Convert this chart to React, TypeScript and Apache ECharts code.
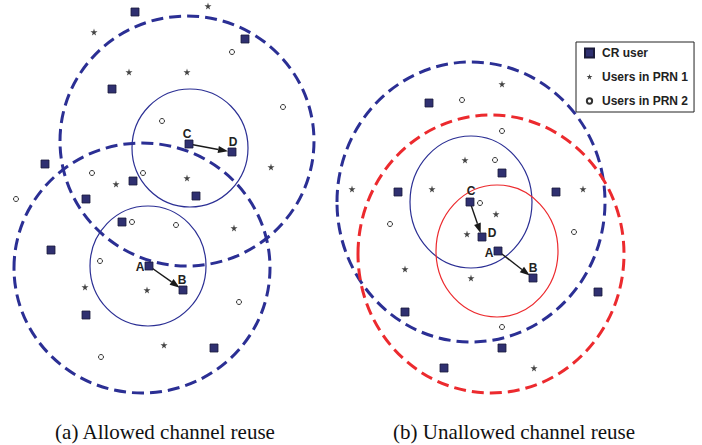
import React, { useEffect, useRef } from "react";
import * as echarts from "echarts";

// point positions (in picture units: x to the right, y downward)
const crUsers: number[][] = [
  [135, 12], [245, 39], [112, 89], [189, 144], [232, 152], [45, 164], [133, 181], [196, 196],
  [86, 199], [122, 222], [51, 250], [149, 266], [183, 290], [86, 315], [214, 348],
  [429, 103], [502, 173], [398, 192], [556, 192], [470, 202], [482, 237], [498, 251],
  [533, 278], [598, 292], [405, 312], [502, 348], [444, 368],
];
const prn1Users: number[][] = [
  [208, 6], [94, 32], [129, 72], [187, 72], [271, 167], [116, 184], [187, 178], [234, 228],
  [147, 290], [85, 287], [164, 345],
  [502, 84], [465, 160], [352, 189], [432, 189], [583, 189], [496, 214], [467, 234],
  [405, 269], [471, 278], [534, 368],
];
const prn2Users: number[][] = [
  [232, 52], [283, 107], [162, 121], [92, 173], [143, 173], [16, 199], [132, 222], [176, 225],
  [100, 261], [239, 302], [101, 357],
  [462, 100], [502, 131], [495, 160], [480, 203], [390, 224], [574, 232], [502, 327],
];
// ranges: [cx, cy, rx, ry]
const interferenceRanges: number[][] = [
  [187, 141, 127, 125],
  [142, 268, 128, 125],
  [471, 202, 134, 140],
];
const interferenceRangesRed: number[][] = [[491, 254, 133, 139]];
const commRanges: number[][] = [
  [190, 148, 58, 59],
  [148, 266, 58, 60],
  [471, 202, 61, 66],
];
const commRangesRed: number[][] = [[497, 251, 61, 66]];
// links: [x1, y1, x2, y2]
const links: number[][] = [
  [189, 144, 232, 152],
  [149, 266, 183, 290],
  [470, 202, 482, 237],
  [498, 251, 533, 278],
];
const nodeLabels: (string | number)[][] = [
  [187, 134, "C"], [233, 142, "D"], [140, 267, "A"], [182, 280, "B"],
  [471, 191, "C"], [492, 233, "D"], [489, 253, "A"], [533, 268, "B"],
];
const captions: (string | number)[][] = [
  [165, 432, "(a) Allowed channel reuse"],
  [514, 432, "(b) Unallowed channel reuse"],
];
const legendNames: string[] = ["CR user", "Users in PRN 1", "Users in PRN 2"];

const BLUE = "#2b2f94";
const RED = "#ec2a2e";
const STAR = "path://M50,0 L61,35 L98,35 L68,57 L79,91 L50,70 L21,91 L32,57 L2,35 L39,35 Z";
const STAR_LEGEND =
  "path://M-25,-25 M125,125 M50,0 L61,35 L98,35 L68,57 L79,91 L50,70 L21,91 L32,57 L2,35 L39,35 Z";
const CIRCLE_LEGEND =
  "path://M-35,-35 M135,135 M100,50 A50,50 0 1 1 0,50 A50,50 0 1 1 100,50 Z";

function ellipseSeries(data: number[][], color: string, dashed: boolean) {
  return {
    type: "custom",
    silent: true,
    data,
    z: 1,
    renderItem: (params: any, api: any) => {
      const c = api.coord([api.value(0), api.value(1)]);
      const s = api.size([api.value(2), api.value(3)]);
      return {
        type: "ellipse",
        shape: { cx: c[0], cy: c[1], rx: s[0], ry: s[1] },
        style: {
          fill: "none",
          stroke: color,
          lineWidth: dashed ? 3 : 1.2,
          lineDash: dashed ? [12, 6] : null,
        },
      };
    },
  };
}

export default function App() {
  const ref = useRef<HTMLDivElement>(null);
  useEffect(() => {
    if (!ref.current) return;
    const chart = echarts.init(ref.current, null, { renderer: "svg" });
    const option: any = {
      animation: false,
      backgroundColor: "#ffffff",
      grid: { left: 0, top: 0, right: 0, bottom: 0 },
      xAxis: { type: "value", min: 0, max: 702, show: false },
      yAxis: { type: "value", min: 0, max: 445, inverse: true, show: false },
      legend: {
        orient: "vertical",
        left: 576,
        top: 42,
        padding: [5, 6, 5, 8],
        itemGap: 12,
        itemWidth: 9,
        itemHeight: 9,
        borderColor: "#222",
        borderWidth: 1,
        textStyle: {
          fontFamily: "Liberation Sans, Arial",
          fontWeight: "bold",
          fontSize: 12,
          color: "#222",
          padding: [0, 0, 0, 3],
        },
        data: [
          { name: legendNames[0], icon: "rect" },
          { name: legendNames[1], icon: STAR_LEGEND },
          { name: legendNames[2], icon: CIRCLE_LEGEND },
        ],
      },
      series: [
        ellipseSeries(interferenceRanges, BLUE, true),
        ellipseSeries(interferenceRangesRed, RED, true),
        ellipseSeries(commRanges, BLUE, false),
        ellipseSeries(commRangesRed, RED, false),
        {
          type: "custom",
          silent: true,
          data: links,
          z: 3,
          renderItem: (params: any, api: any) => {
            const p1 = api.coord([api.value(0), api.value(1)]);
            const p2 = api.coord([api.value(2), api.value(3)]);
            const dx = p2[0] - p1[0];
            const dy = p2[1] - p1[1];
            const len = Math.sqrt(dx * dx + dy * dy);
            const ux = dx / len;
            const uy = dy / len;
            const tip = [p2[0] - ux * 4, p2[1] - uy * 4];
            const hl = 10;
            const hw = 3.5;
            const base = [tip[0] - ux * hl, tip[1] - uy * hl];
            return {
              type: "group",
              children: [
                {
                  type: "line",
                  shape: { x1: p1[0], y1: p1[1], x2: base[0], y2: base[1] },
                  style: { stroke: "#1a1a1a", lineWidth: 1.4 },
                },
                {
                  type: "polygon",
                  shape: {
                    points: [
                      tip,
                      [base[0] - uy * hw, base[1] + ux * hw],
                      [base[0] + uy * hw, base[1] - ux * hw],
                    ],
                  },
                  style: { fill: "#1a1a1a" },
                },
              ],
            };
          },
        },
        {
          name: legendNames[0],
          type: "scatter",
          data: crUsers,
          symbol: "rect",
          symbolSize: 8,
          z: 4,
          itemStyle: { color: "#2f3070", borderColor: "#1b1b3a", borderWidth: 0.8, opacity: 1 },
        },
        {
          name: legendNames[1],
          type: "scatter",
          data: prn1Users,
          symbol: STAR,
          symbolSize: 7,
          z: 4,
          itemStyle: { color: "#444444", opacity: 1 },
        },
        {
          name: legendNames[2],
          type: "scatter",
          data: prn2Users,
          symbol: "circle",
          symbolSize: 5,
          z: 4,
          itemStyle: { color: "#ffffff", borderColor: "#333333", borderWidth: 1, opacity: 1 },
        },
        {
          type: "custom",
          silent: true,
          data: nodeLabels,
          z: 5,
          renderItem: (params: any, api: any) => {
            const p = api.coord([api.value(0), api.value(1)]);
            return {
              type: "text",
              x: p[0],
              y: p[1],
              style: {
                text: String(nodeLabels[params.dataIndex][2]),
                fill: "#222",
                font: "bold 12px 'Liberation Sans', Arial",
                align: "center",
                verticalAlign: "middle",
              },
            };
          },
        },
        {
          type: "custom",
          silent: true,
          data: captions,
          z: 5,
          renderItem: (params: any, api: any) => {
            const p = api.coord([api.value(0), api.value(1)]);
            return {
              type: "text",
              x: p[0],
              y: p[1],
              style: {
                text: String(captions[params.dataIndex][2]),
                fill: "#111",
                font: "21px 'Liberation Serif', 'Times New Roman', serif",
                align: "center",
                verticalAlign: "middle",
              },
            };
          },
        },
      ],
    };
    chart.setOption(option);
    return () => chart.dispose();
  }, []);
  return (
    <div
      ref={ref}
      style={{ position: "fixed", left: 0, top: 0, width: 702, height: 445, background: "#fff" }}
    />
  );
}
